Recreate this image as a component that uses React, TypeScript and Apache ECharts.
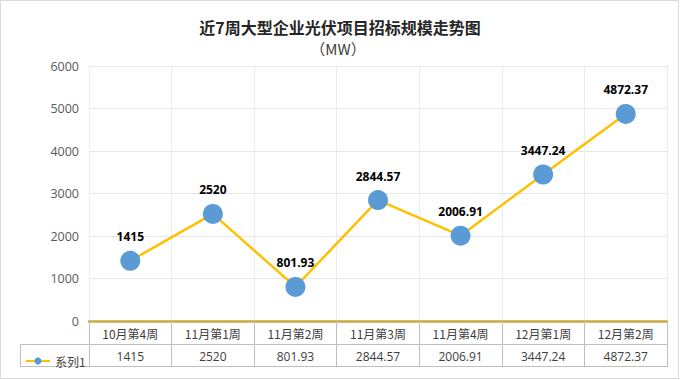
import React, { useEffect, useRef } from "react";
import * as echarts from "echarts";

const title = "近7周大型企业光伏项目招标规模走势图";
const subtitle = "（MW）";
const seriesName = "系列1";
const categories = ["10月第4周", "11月第1周", "11月第2周", "11月第3周", "11月第4周", "12月第1周", "12月第2周"];
const values = [1415, 2520, 801.93, 2844.57, 2006.91, 3447.24, 4872.37];

const numFont = "'Open Sans', 'Noto Sans CJK SC', sans-serif";
const cjkFont = "'Noto Sans CJK SC', sans-serif";

export default function App() {
  const ref = useRef<HTMLDivElement>(null);
  useEffect(() => {
    document.body.style.margin = "0";
    if (!ref.current) return;
    const chart = echarts.init(ref.current, undefined, { renderer: "svg" });
    chart.setOption({
      animation: false,
      backgroundColor: "#ffffff",
      title: [
        {
          text: title,
          left: "center",
          top: 14,
          textStyle: { fontFamily: cjkFont, fontSize: 16, fontWeight: "bold", color: "#262626" },
        },
        {
          text: subtitle,
          left: 333,
          top: 36,
          textAlign: "center",
          textStyle: { fontFamily: cjkFont, fontSize: 15, fontWeight: "normal", color: "#404040" },
        },
      ],
      legend: {
        left: 20,
        top: 350,
        itemWidth: 24,
        itemHeight: 9,
        itemGap: 4,
        textStyle: { fontFamily: cjkFont, fontSize: 12, color: "#404040" },
        data: [seriesName],
      },
      grid: { left: 89, right: 13, top: 66, bottom: 59, containLabel: false },
      xAxis: [
        {
          type: "category",
          data: categories,
          boundaryGap: true,
          axisLine: { show: true, lineStyle: { color: "#c9a93f", width: 2.5 } },
          axisTick: { show: true, length: 46, inside: false, lineStyle: { color: "#bfbfbf", width: 1 } },
          splitLine: { show: true, lineStyle: { color: "#ececec", width: 1 } },
          axisLabel: { margin: 6, fontFamily: cjkFont, fontSize: 12, color: "#404040", interval: 0 },
          z: 5,
        },
        {
          type: "category",
          data: values.map((v) => String(v)),
          position: "bottom",
          offset: 23,
          boundaryGap: true,
          axisLine: { show: false },
          axisTick: { show: false },
          splitLine: { show: false },
          axisLabel: { margin: 6, fontFamily: numFont, fontSize: 12, color: "#404040", interval: 0 },
        },
      ],
      yAxis: {
        type: "value",
        min: 0,
        max: 6000,
        interval: 1000,
        axisLine: { show: false },
        axisTick: { show: false },
        splitLine: { lineStyle: { color: "#e6e6e6", width: 1 } },
        axisLabel: {
          margin: 10,
          fontFamily: numFont,
          fontSize: 12.5,
          color: "#595959",
          formatter: (v: number) => String(v),
        },
      },
      series: [
        {
          name: seriesName,
          type: "line",
          data: values,
          xAxisIndex: 0,
          symbol: "circle",
          symbolSize: 20,
          itemStyle: { color: "#5b9bd5" },
          lineStyle: { color: "#ffc000", width: 2.5 },
          label: {
            show: true,
            position: "top",
            distance: 8,
            fontFamily: numFont,
            fontSize: 12,
            fontWeight: "bold",
            color: "#000000",
          },
          z: 10,
        },
      ],
      graphic: [
        {
          type: "rect",
          shape: { x: 0.5, y: 0.5, width: 678, height: 378 },
          style: { fill: "none", stroke: "#d9d9d9", lineWidth: 1 },
          silent: true,
        },
        {
          type: "line",
          shape: { x1: 20, y1: 344.5, x2: 667, y2: 344.5 },
          style: { stroke: "#bfbfbf", lineWidth: 1 },
          silent: true,
        },
        {
          type: "line",
          shape: { x1: 20, y1: 366.5, x2: 667, y2: 366.5 },
          style: { stroke: "#bfbfbf", lineWidth: 1 },
          silent: true,
        },
        {
          type: "line",
          shape: { x1: 20.5, y1: 344.5, x2: 20.5, y2: 366.5 },
          style: { stroke: "#bfbfbf", lineWidth: 1 },
          silent: true,
        },
      ],
    });
    return () => chart.dispose();
  }, []);
  return <div ref={ref} style={{ width: 680, height: 380 }} />;
}
